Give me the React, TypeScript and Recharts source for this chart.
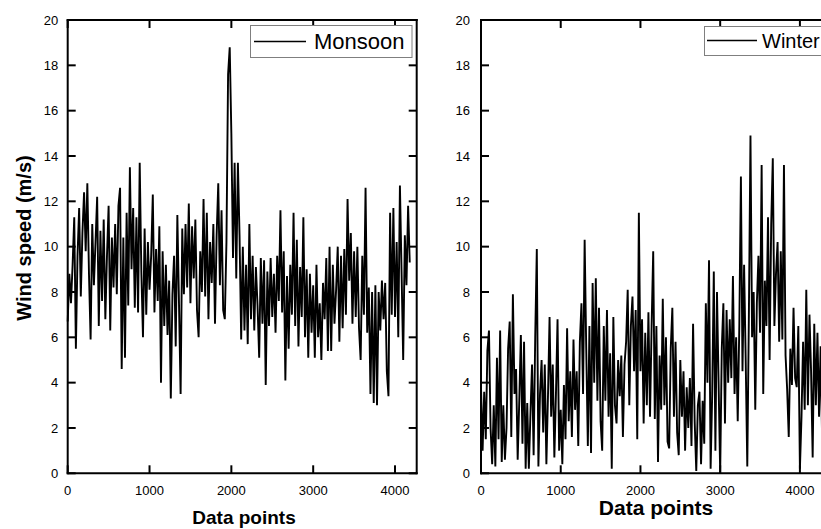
import React from 'react';
import { LineChart, Line, XAxis, YAxis, ReferenceLine } from 'recharts';

const STEP = 20;
const xTicks = [0, 1000, 2000, 3000, 4000];
const yTicks = [0, 2, 4, 6, 8, 10, 12, 14, 16, 18, 20];

const monsoonValues = [
  6.7, 8.8, 7.5, 9.2, 11.3, 5.5, 9.6, 11.7, 7.8, 10.6,
  12.4, 9.8, 12.8, 8.8, 5.9, 11.0, 8.3, 10.2, 12.2, 6.5,
  10.7, 7.6, 11.2, 6.8, 9.6, 11.8, 6.3, 10.4, 8.2, 11.0,
  7.9, 11.8, 12.6, 4.6, 10.4, 5.1, 11.5, 7.4, 13.5, 9.0,
  11.7, 7.3, 11.3, 7.1, 13.7, 8.9, 6.0, 10.8, 7.0, 10.2,
  8.1, 9.6, 12.3, 7.1, 9.9, 7.6, 10.9, 4.0, 9.8, 6.5,
  9.2, 6.1, 8.5, 3.3, 7.9, 9.6, 5.6, 11.4, 7.5, 3.5,
  10.8, 7.9, 11.0, 8.2, 11.9, 7.5, 10.9, 8.6, 11.2, 7.2,
  6.0, 9.8, 8.0, 12.1, 7.8, 11.5, 6.8, 10.2, 8.4, 11.0,
  6.6, 10.5, 12.8, 8.3, 11.6, 7.2, 6.8, 10.2, 17.6, 18.8,
  15.0, 9.5, 13.7, 8.6, 13.7, 10.5, 5.9, 10.0, 6.3, 9.2,
  5.7, 11.0, 6.8, 9.6, 6.3, 9.1, 7.4, 5.1, 9.5, 6.6,
  9.4, 3.9, 8.9, 6.5, 9.5, 6.9, 8.8, 6.2, 9.6, 7.6,
  11.6, 7.1, 9.8, 4.1, 8.7, 5.5, 9.2, 7.0, 11.5, 6.5,
  10.3, 5.6, 9.1, 6.9, 11.3, 6.0, 9.0, 5.1, 8.8, 6.2,
  8.3, 5.1, 9.2, 6.0, 7.5, 5.0, 8.4, 6.8, 9.5, 5.4,
  10.0, 5.4, 9.2, 6.6, 8.1, 10.0, 5.8, 9.6, 6.4, 9.9,
  7.0, 12.1, 8.5, 10.6, 6.6, 9.8, 6.9, 10.0, 6.4, 5.0,
  9.6, 7.0, 12.6, 6.2, 8.2, 3.5, 8.0, 3.1, 8.3, 3.0,
  8.0, 6.3, 8.5, 6.8, 8.4, 4.5, 3.4, 11.5, 7.0, 11.7,
  6.9, 10.2, 6.0, 12.7, 8.9, 5.0, 10.5, 8.3, 11.8, 9.3,
];

const winterValues = [
  3.8, 1.0, 3.6, 1.5, 5.4, 6.3, 2.0, 0.4, 3.0, 0.3,
  5.1, 1.5, 6.3, 0.5, 3.0, 0.6, 2.0, 5.5, 6.7, 1.6,
  7.9, 3.5, 4.6, 0.6, 3.2, 6.1, 1.3, 5.8, 0.2, 3.1,
  0.2, 2.6, 4.8, 0.8, 6.0, 9.9, 0.3, 3.5, 5.0, 1.8,
  4.8, 0.4, 3.4, 6.9, 2.5, 4.8, 0.7, 3.5, 6.8, 1.0,
  2.8, 0.4, 3.9, 1.5, 6.4, 2.3, 4.5, 1.6, 5.9, 2.8,
  4.5, 1.2, 5.8, 7.5, 3.5, 10.3, 5.5, 1.2, 6.5, 0.9,
  8.4, 4.0, 8.6, 3.2, 7.3, 2.3, 1.0, 6.5, 3.2, 7.2,
  2.5, 5.3, 0.2, 6.9, 3.0, 2.2, 5.0, 3.4, 5.2, 1.6,
  4.8, 5.8, 8.1, 3.0, 6.5, 7.8, 4.5, 7.2, 1.5, 11.5,
  4.5, 6.8, 2.2, 6.2, 3.0, 7.1, 2.5, 6.5, 9.8, 2.4,
  6.5, 0.5, 5.2, 2.8, 7.7, 3.0, 6.0, 1.4, 1.1, 5.5,
  7.3, 2.5, 5.8, 1.8, 0.8, 5.0, 2.5, 4.5, 1.0, 3.8,
  2.0, 4.2, 1.2, 6.6, 2.3, 0.1, 3.0, 3.6, 0.4, 3.2,
  1.3, 7.5, 4.0, 9.4, 0.2, 3.5, 8.9, 1.0, 8.0, 4.0,
  0.0, 5.5, 7.5, 2.2, 7.2, 4.0, 6.8, 4.2, 8.7, 3.5,
  6.0, 2.3, 6.5, 13.1, 4.5, 9.2, 5.0, 0.3, 7.0, 14.9,
  6.0, 8.0, 2.8, 7.5, 9.6, 6.2, 13.6, 3.5, 8.5, 6.5,
  11.3, 5.0, 11.0, 13.9, 6.5, 8.8, 10.2, 5.8, 9.8, 5.9,
  13.6, 5.2, 3.7, 1.6, 5.5, 3.9, 7.3, 4.2, 3.8, 6.5,
  0.2, 2.5, 5.8, 2.8, 8.1, 3.0, 7.0, 4.5, 0.7, 6.6,
  3.0, 6.2, 2.5, 5.6, 1.2, 5.0, 3.2, 6.0, 2.0, 4.8,
];

const monsoonData = monsoonValues.map((v, i) => ({ x: i * STEP, v }));
const winterData = winterValues.map((v, i) => ({ x: i * STEP, v }));

const FONT = '"Liberation Sans", Arial, Helvetica, sans-serif';
const TICK_LEN = 8;
const CHART_H = 529;
const M_TOP = 19;
const M_BOTTOM = 25.7;
const X_AXIS_H = 30;
const Y_AXIS_W = 50;
const frameLine = { stroke: '#000', strokeWidth: 2, strokeLinecap: 'square' as const };

const makeLeftTick = (gap: number) => (props: any) => {
  const X = Number(props.x);
  const Y = Number(props.y);
  return (
    <text x={X - gap} y={Y} dy="0.355em" textAnchor="end" fontFamily={FONT} fontSize={13} fill="#000">
      {props.payload.value}
    </text>
  );
};

const BottomTick = (props: any) => {
  const X = Number(props.x);
  const Y = Number(props.y);
  return (
    <text x={X} y={Y + 12} dy="0.71em" textAnchor="middle" fontFamily={FONT} fontSize={13} fill="#000">
      {props.payload.value}
    </text>
  );
};

type PanelProps = {
  data: { x: number; v: number }[];
  width: number;
  marginLeft: number;
  marginRight: number;
  xMax: number;
  labelGap: number;
};

function Panel({ data, width, marginLeft, marginRight, xMax, labelGap }: PanelProps) {
  const plotW = width - marginLeft - marginRight - Y_AXIS_W - 1;
  const plotH = CHART_H - M_TOP - M_BOTTOM - X_AXIS_H - 1;
  const dx = (TICK_LEN * xMax) / plotW;
  const dy = (TICK_LEN * 20) / plotH;
  return (
    <LineChart
      width={width}
      height={CHART_H}
      data={data}
      margin={{ top: M_TOP, right: marginRight, bottom: M_BOTTOM, left: marginLeft }}
    >
      <XAxis
        dataKey="x"
        type="number"
        domain={[0, xMax]}
        ticks={xTicks}
        interval={0}
        height={X_AXIS_H}
        tickSize={0}
        tickMargin={0}
        tickLine={false}
        axisLine={frameLine}
        tick={BottomTick}
      />
      <XAxis
        xAxisId="top"
        orientation="top"
        dataKey="x"
        type="number"
        domain={[0, xMax]}
        ticks={xTicks}
        interval={0}
        height={1}
        tickSize={0}
        tickLine={false}
        axisLine={frameLine}
        tick={false}
      />
      <YAxis
        type="number"
        domain={[0, 20]}
        ticks={yTicks}
        interval={0}
        width={Y_AXIS_W}
        tickSize={0}
        tickMargin={0}
        tickLine={false}
        axisLine={frameLine}
        tick={makeLeftTick(labelGap)}
      />
      <YAxis
        yAxisId="right"
        orientation="right"
        type="number"
        domain={[0, 20]}
        ticks={yTicks}
        interval={0}
        width={1}
        tickSize={0}
        tickLine={false}
        axisLine={frameLine}
        tick={false}
      />
      {xTicks.map((t) => (
        <ReferenceLine
          key={`b${t}`}
          segment={[{ x: t, y: 0 }, { x: t, y: dy }]}
          stroke="#000"
          strokeWidth={2}
          ifOverflow="visible"
        />
      ))}
      {xTicks.map((t) => (
        <ReferenceLine
          key={`t${t}`}
          segment={[{ x: t, y: 20 }, { x: t, y: 20 - dy }]}
          stroke="#000"
          strokeWidth={2}
          ifOverflow="visible"
        />
      ))}
      {yTicks.map((t) => (
        <ReferenceLine
          key={`l${t}`}
          segment={[{ x: 0, y: t }, { x: dx, y: t }]}
          stroke="#000"
          strokeWidth={2}
          ifOverflow="visible"
        />
      ))}
      {yTicks.map((t) => (
        <ReferenceLine
          key={`r${t}`}
          segment={[{ x: xMax, y: t }, { x: xMax - dx, y: t }]}
          stroke="#000"
          strokeWidth={2}
          ifOverflow="visible"
        />
      ))}
      <Line
        dataKey="v"
        type="linear"
        stroke="#000"
        strokeWidth={1.9}
        dot={false}
        isAnimationActive={false}
      />
      <Line
        xAxisId="top"
        yAxisId="right"
        dataKey="v"
        stroke="none"
        strokeOpacity={0}
        dot={false}
        activeDot={false}
        legendType="none"
        isAnimationActive={false}
      />
    </LineChart>
  );
}

export default function App() {
  return (
    <div
      style={{
        position: 'fixed',
        left: 0,
        top: 0,
        width: 821,
        height: 529,
        overflow: 'hidden',
        background: '#fff',
      }}
    >
      <div style={{ position: 'absolute', left: 0, top: 0 }}>
        <Panel data={monsoonData} width={430} marginLeft={17.7} marginRight={12.3} xMax={4265} labelGap={9.5} />
      </div>
      <div style={{ position: 'absolute', left: 420, top: 0 }}>
        <Panel data={winterData} width={430} marginLeft={11} marginRight={18} xMax={4390} labelGap={11} />
      </div>
      <svg
        width={821}
        height={529}
        style={{ position: 'absolute', left: 0, top: 0, pointerEvents: 'none' }}
      >
        <text
          transform="translate(31,238) rotate(-90)"
          textAnchor="middle"
          fontFamily={FONT}
          fontWeight="bold"
          fontSize={20}
          fill="#000"
        >
          Wind speed (m/s)
        </text>
        <text x={244} y={524} textAnchor="middle" fontFamily={FONT} fontWeight="bold" fontSize={19} fill="#000">
          Data points
        </text>
        <text x={656} y={515} textAnchor="middle" fontFamily={FONT} fontWeight="bold" fontSize={21} fill="#000">
          Data points
        </text>
        <rect x={250.5} y={25.5} width={161.5} height={32} fill="#fff" stroke="#7f7f7f" strokeWidth={1} />
        <line x1={254} y1={41.5} x2={306} y2={41.5} stroke="#000" strokeWidth={1.3} />
        <text x={314} y={49} fontFamily={FONT} fontSize={22} fill="#000">
          Monsoon
        </text>
        <rect x={704.5} y={26.5} width={200} height={29} fill="#fff" stroke="#7f7f7f" strokeWidth={1} />
        <line x1={707} y1={40.5} x2={757} y2={40.5} stroke="#000" strokeWidth={1.3} />
        <text x={762} y={48} fontFamily={FONT} fontSize={20} fill="#000">
          Winter
        </text>
      </svg>
    </div>
  );
}
